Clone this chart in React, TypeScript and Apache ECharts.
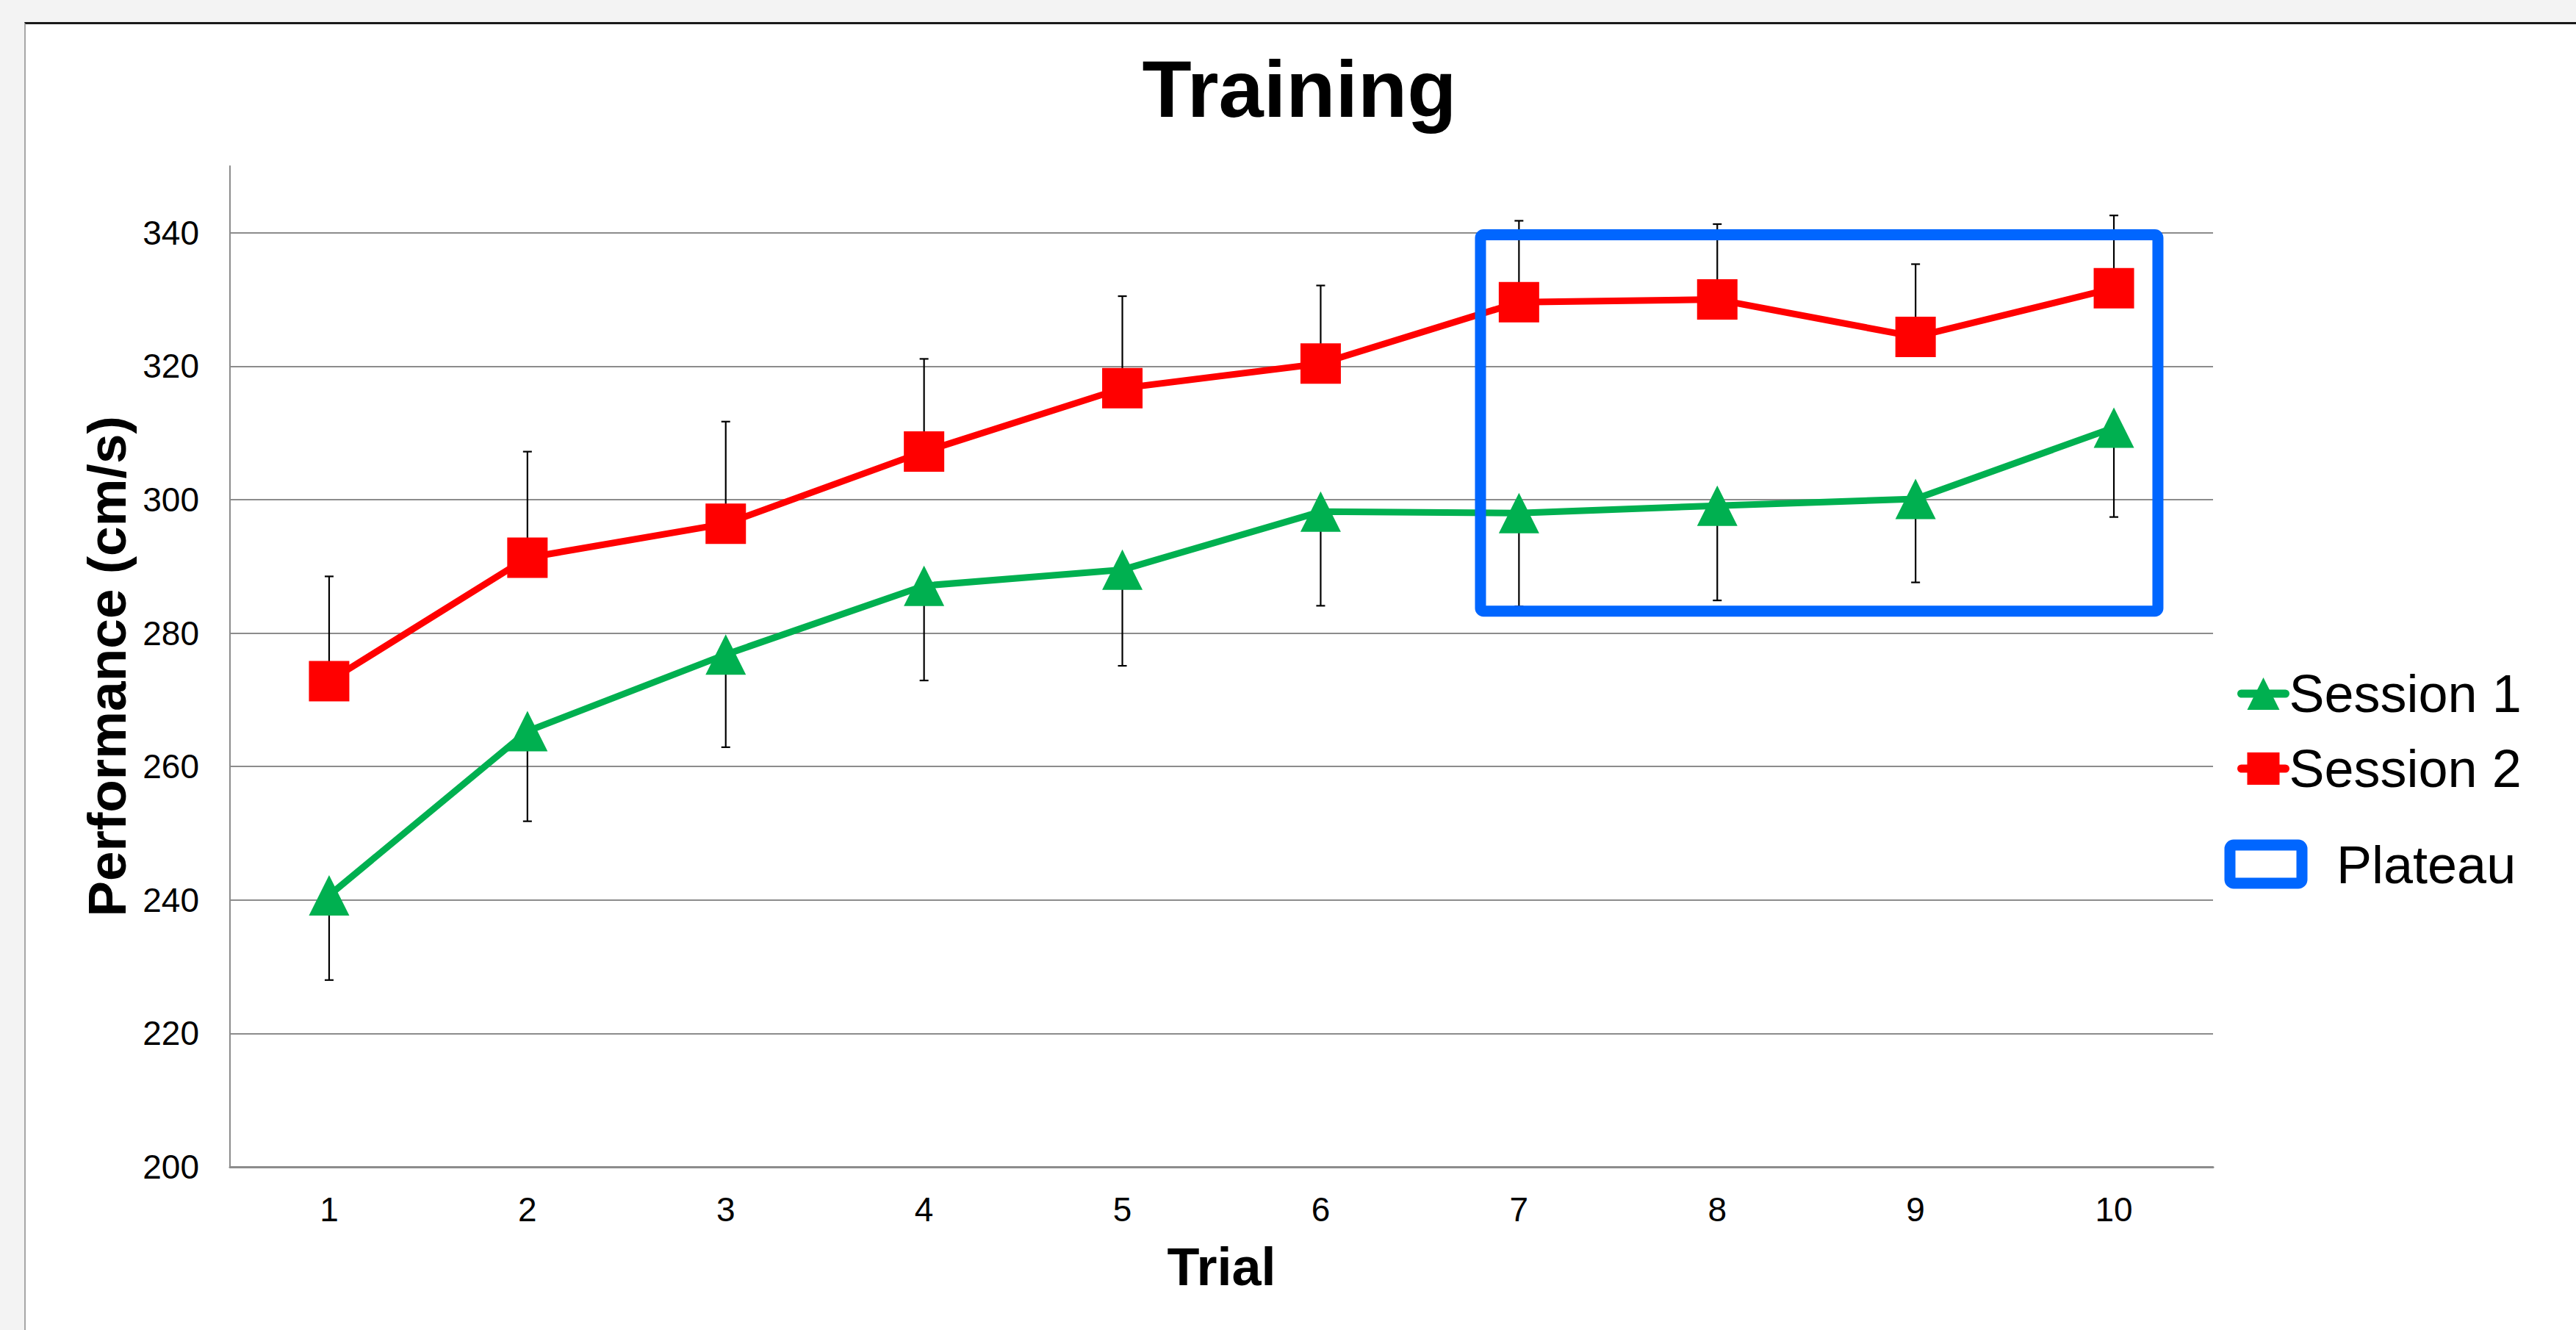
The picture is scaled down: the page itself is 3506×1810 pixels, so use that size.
import React, { useEffect, useRef } from "react";
import * as echarts from "echarts";

const trials = ["1", "2", "3", "4", "5", "6", "7", "8", "9", "10"];
const session1 = [240.7, 265.3, 276.8, 287.1, 289.5, 298.2, 298.0, 299.1, 300.1, 310.8];
const session1Err = [12.7, 13.5, 13.9, 14.2, 14.4, 14.1, 14.0, 14.2, 12.5, 13.4];
const session2 = [272.8, 291.3, 296.4, 307.2, 316.7, 320.4, 329.6, 330.0, 324.4, 331.7];
const session2Err = [15.7, 15.9, 15.3, 13.9, 13.8, 11.7, 12.2, 11.3, 10.9, 10.9];
// plateau box: first trial index, last trial index, lower value, upper value
const plateau = [6, 9, 283.3, 339.7];

const FONT = "'Liberation Sans', Arial, sans-serif";
const RED = "#FF0000";
const GREEN = "#00B050";
const BLUE = "#0066FF";
const GRID = "#8c8c8c";

export default function App() {
  const ref = useRef<HTMLDivElement>(null);
  useEffect(() => {
    if (!ref.current) return;
    const chart = echarts.init(ref.current, null, { renderer: "svg" });

    const errRender = (dir: number) => (params: any, api: any) => {
      const x = api.value(0);
      const y = api.value(1);
      const e = api.value(2);
      const p0 = api.coord([x, y]);
      const p1 = api.coord([x, y + dir * e]);
      const cap = 6;
      const st = { stroke: "#000", lineWidth: 2.2 };
      return {
        type: "group",
        children: [
          { type: "line", shape: { x1: p0[0], y1: p0[1], x2: p1[0], y2: p1[1] }, style: st },
          { type: "line", shape: { x1: p1[0] - cap, y1: p1[1], x2: p1[0] + cap, y2: p1[1] }, style: st },
        ],
      };
    };

    chart.setOption({
      animation: false,
      backgroundColor: "transparent",
      title: {
        text: "Training",
        left: "50.3%",
        textAlign: "center",
        top: 60,
        textStyle: { fontFamily: FONT, fontWeight: "bold", fontSize: 110, color: "#000" },
      },
      grid: { left: 313, top: 226, width: 2699, height: 1362 },
      legend: {
        data: ["Session 1", "Session 2"],
        orient: "vertical",
        left: 3040,
        top: 903,
        itemWidth: 60,
        itemHeight: 55,
        itemGap: 30,
        lineStyle: { width: 11, cap: "round" },
        textStyle: { fontFamily: FONT, fontSize: 72, color: "#000" },
      },
      xAxis: {
        type: "category",
        data: trials,
        boundaryGap: true,
        name: "Trial",
        nameLocation: "middle",
        nameGap: 100,
        nameTextStyle: { fontFamily: FONT, fontWeight: "bold", fontSize: 72, color: "#000" },
        axisLine: { lineStyle: { color: GRID, width: 3 } },
        axisTick: { show: false },
        axisLabel: { fontFamily: FONT, fontSize: 46, color: "#000", margin: 35 },
        splitLine: { show: false },
      },
      yAxis: {
        type: "value",
        min: 200,
        max: 350,
        interval: 20,
        name: "Performance (cm/s)",
        nameLocation: "middle",
        nameGap: 131,
        nameTextStyle: { fontFamily: FONT, fontWeight: "bold", fontSize: 73, color: "#000" },
        axisLine: { show: true, lineStyle: { color: GRID, width: 2 } },
        axisTick: { show: false },
        axisLabel: { fontFamily: FONT, fontSize: 46, color: "#000", margin: 42, showMaxLabel: false },
        splitLine: { show: true, showMaxLine: false, lineStyle: { color: GRID, width: 2 } },
      },
      series: [
        {
          type: "custom",
          name: "err1",
          z: 1,
          renderItem: errRender(-1),
          data: session1.map((v, i) => [i, v, session1Err[i]]),
          silent: true,
        },
        {
          type: "custom",
          name: "err2",
          z: 1,
          renderItem: errRender(1),
          data: session2.map((v, i) => [i, v, session2Err[i]]),
          silent: true,
        },
        {
          type: "line",
          name: "Session 1",
          z: 2,
          data: session1,
          symbol: "triangle",
          symbolSize: 55,
          color: GREEN,
          lineStyle: { color: GREEN, width: 9 },
          itemStyle: { color: GREEN },
        },
        {
          type: "line",
          name: "Session 2",
          z: 2,
          data: session2,
          symbol: "rect",
          symbolSize: 55,
          color: RED,
          lineStyle: { color: RED, width: 9 },
          itemStyle: { color: RED },
        },
        {
          type: "custom",
          name: "Plateau",
          z: 3,
          silent: true,
          renderItem: (params: any, api: any) => {
            const band = api.size([1, 0])[0];
            const tl = api.coord([api.value(0), api.value(3)]);
            const br = api.coord([api.value(1), api.value(2)]);
            const x1 = tl[0] - band * 0.194;
            const x2 = br[0] + band * 0.222;
            return {
              type: "rect",
              shape: { x: x1, y: tl[1], width: x2 - x1, height: br[1] - tl[1], r: 4 },
              style: { fill: "none", stroke: BLUE, lineWidth: 15 },
            };
          },
          data: [plateau],
        },
      ],
      graphic: [
        {
          type: "rect",
          shape: { x: 3035, y: 1150, width: 98, height: 52, r: 5 },
          style: { fill: "#fff", stroke: BLUE, lineWidth: 15 },
        },
        {
          type: "text",
          x: 3180,
          y: 1177,
          style: {
            text: "Plateau",
            fontFamily: FONT,
            fontSize: 72,
            fill: "#000",
            textVerticalAlign: "middle",
            verticalAlign: "middle",
          },
        },
      ],
    });
    return () => chart.dispose();
  }, []);

  return (
    <div style={{ position: "absolute", left: 0, top: 0, width: 3506, height: 1810, background: "#f3f3f3", overflow: "hidden" }}>
      <div
        style={{
          position: "absolute",
          left: 33,
          top: 30,
          right: 0,
          bottom: 0,
          background: "#fff",
          borderTop: "3px solid #1a1a1a",
          borderLeft: "2px solid #a6a6a6",
        }}
      />
      <div ref={ref} style={{ position: "absolute", left: 0, top: 0, width: 3506, height: 1810 }} />
    </div>
  );
}
